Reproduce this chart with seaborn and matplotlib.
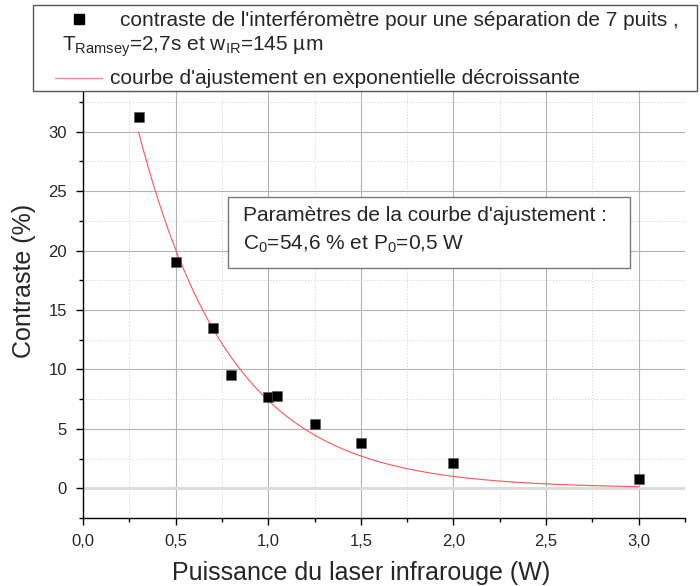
import numpy as np
import matplotlib
matplotlib.use("Agg")
import matplotlib.pyplot as plt
from matplotlib.lines import Line2D
from matplotlib.patches import Rectangle
import seaborn as sns

# measured points
puissance = [0.3, 0.5, 0.7, 0.8, 1.0, 1.05, 1.25, 1.5, 2.0, 3.0]
contraste = [31.2, 19.05, 13.45, 9.5, 7.7, 7.8, 5.4, 3.8, 2.1, 0.8]

# fit parameters given on the chart
C0 = 54.6
P0 = 0.5
P_start, P_end = 0.3, 3.0

xticks = [0.0, 0.5, 1.0, 1.5, 2.0, 2.5, 3.0]
xticklabels = ["0,0", "0,5", "1,0", "1,5", "2,0", "2,5", "3,0"]
yticks = [0, 5, 10, 15, 20, 25, 30]

sns.set_style("white")
plt.rcParams['font.family'] = ['Liberation Sans', 'DejaVu Sans']
plt.rcParams['mathtext.default'] = 'regular'

W, H = 700, 586
fig = plt.figure(figsize=(7, 5.86), dpi=100)
ax = fig.add_axes([83 / W, 1 - 518 / H, 602 / W, 428 / H])

P_fit = np.linspace(P_start, P_end, 200)
C_fit = C0 * np.exp(-P_fit / P0)

sns.lineplot(x=P_fit, y=C_fit, ax=ax, color='#ff5555', linewidth=0.8, zorder=3)
sns.scatterplot(x=puissance, y=contraste, ax=ax, marker='s', s=60,
                color='black', edgecolor='#555555', linewidth=0.4, zorder=4)

ax.set_xlim(0, 3.25)
ax.set_ylim(-2.5, 33.5)
ax.set_xticks(xticks)
ax.set_xticklabels(xticklabels)
ax.set_yticks(yticks)
ax.set_xticks(np.arange(0.25, 3.3, 0.5), minor=True)
ax.set_yticks(np.arange(-2.5, 33.5, 5), minor=True)

ax.grid(True, which='major', color='#b4b4b4', linewidth=0.8)
ax.grid(True, which='minor', color='#cfcfcf', linewidth=0.7, linestyle=(0, (1, 2)))
ax.axhline(0, color='#dcdcdc', linewidth=2.2, zorder=1.5)
ax.set_axisbelow(True)

for s in ['top', 'right']:
    ax.spines[s].set_visible(False)
for s in ['left', 'bottom']:
    ax.spines[s].set_color('black')
    ax.spines[s].set_linewidth(1.0)

ax.tick_params(which='major', direction='out', length=5, width=1, color='black',
               labelsize=12, left=True, bottom=True, pad=6.5)
ax.tick_params(which='minor', direction='out', length=3, width=1, color='black',
               left=True, bottom=True)

ax.set_xlabel("Puissance du laser infrarouge (W)", fontsize=18)
ax.set_ylabel("Contraste (%)", fontsize=18)
ax.xaxis.set_label_coords((361 - 83) / 602, -(573 - 518) / 428)
ax.yaxis.set_label_coords((24 - 83) / 602, (518 - 281) / 428)
ax.xaxis.label.set_va('center')
ax.yaxis.label.set_va('center')

# parameters box
fig.patches.append(Rectangle((228 / W, 1 - 268 / H), 402 / W, 71 / H,
                             transform=fig.transFigure, fc='white', ec='#777777',
                             lw=1, zorder=5))
fig.text(243 / W, 1 - 216 / H, "Paramètres de la courbe d'ajustement :",
         fontsize=15, va='center', ha='left', zorder=6)
fig.text(243 / W, 1 - 244 / H, "$C_0$=54,6 % et $P_0$=0,5 W",
         fontsize=15, va='center', ha='left', zorder=6)

# legend drawn in figure coordinates
fig.patches.append(Rectangle((33 / W, 1 - 91 / H), 664 / W, 86 / H,
                             transform=fig.transFigure, fc='white', ec='#555555',
                             lw=1, zorder=5))
fig.lines.append(Line2D([79 / W], [1 - 19 / H], marker='s', markersize=7.5,
                        color='black', linestyle='none', transform=fig.transFigure,
                        zorder=6))
fig.lines.append(Line2D([55 / W, 102 / W], [1 - 78 / H, 1 - 78 / H],
                        color='#ff8888', lw=1, transform=fig.transFigure, zorder=6))
fig.text(120 / W, 1 - 20 / H,
         "contraste de l'interféromètre pour une séparation de 7 puits ,",
         fontsize=15, va='center', ha='left', zorder=6)
fig.text(62 / W, 1 - 47 / H, "$T_{Ramsey}$=2,7s et $w_{IR}$=145 µm",
         fontsize=15, va='center', ha='left', zorder=6)
fig.text(110 / W, 1 - 78 / H,
         "courbe d'ajustement en exponentielle décroissante",
         fontsize=15, va='center', ha='left', zorder=6)

fig.savefig("out.png", dpi=100)
